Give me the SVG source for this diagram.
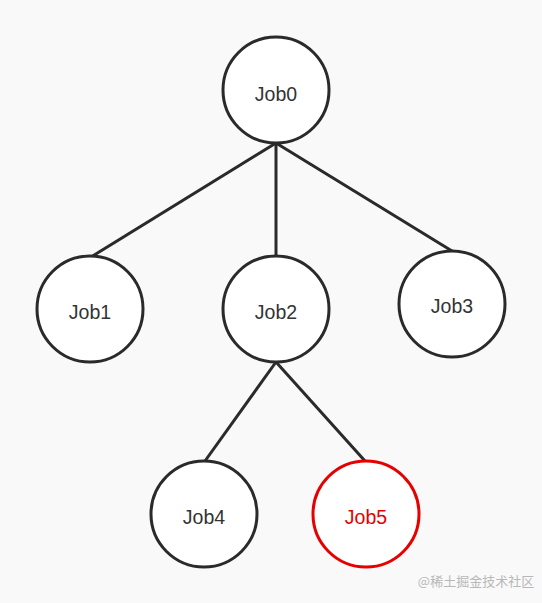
<svg xmlns="http://www.w3.org/2000/svg" width="542" height="603" viewBox="0 0 542 603">
<style>
.node circle{fill:#fff;stroke:#2a2a2a;stroke-width:3}
.node text{font-family:"Liberation Sans",Arial,sans-serif;font-size:19.5px;fill:#333;text-anchor:middle;dominant-baseline:central}
.edges line{stroke:#2a2a2a;stroke-width:3}
</style>
<rect width="542" height="603" fill="#f9f9f9"/>
<g class="edges">
<line x1="276" y1="143" x2="91" y2="257"/>
<line x1="276" y1="143" x2="276" y2="256"/>
<line x1="276" y1="143" x2="452" y2="251"/>
<line x1="276" y1="362" x2="205" y2="461"/>
<line x1="276" y1="362" x2="365" y2="461"/>
</g>
<g id="job0" class="node"><circle cx="276" cy="90" r="53"/><text x="276" y="94">Job0</text></g>
<g id="job1" class="node"><circle cx="90" cy="309" r="53"/><text x="90" y="312">Job1</text></g>
<g id="job2" class="node"><circle cx="276" cy="309" r="53"/><text x="276" y="312">Job2</text></g>
<g id="job3" class="node"><circle cx="452" cy="304" r="53"/><text x="452" y="306">Job3</text></g>
<g id="job4" class="node"><circle cx="204" cy="514" r="53"/><text x="204" y="517">Job4</text></g>
<g id="job5" class="node"><circle cx="366" cy="514" r="53" style="stroke:#e60000"/><text x="366" y="517" style="fill:#e60000">Job5</text></g>
<text x="476" y="580" font-family="'Noto Sans CJK SC',sans-serif" font-size="13" fill="#b8b8b8" text-anchor="middle" dominant-baseline="central">@稀土掘金技术社区</text>
</svg>
